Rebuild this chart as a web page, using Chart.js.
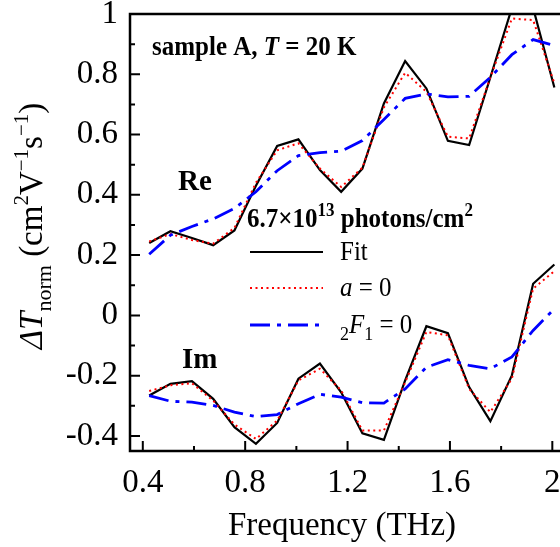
<!DOCTYPE html>
<html>
<head>
<meta charset="utf-8">
<script src="https://cdn.jsdelivr.net/npm/chart.js@4.4.0/dist/chart.umd.min.js"></script>
<style>
  html, body { margin: 0; padding: 0; background: #fff; overflow: hidden; }
</style>
</head>
<body>
<canvas id="chart" width="560" height="547"></canvas>
<script>
// Frequency points (THz)
const frequency = [0.425, 0.508, 0.592, 0.675, 0.758, 0.842, 0.925, 1.008, 1.092, 1.175,
                   1.258, 1.342, 1.425, 1.508, 1.592, 1.675, 1.758, 1.842, 1.925, 2.008];
// real part
const reFit = [0.240, 0.279, 0.257, 0.233, 0.282, 0.430, 0.562, 0.584, 0.482, 0.410,
               0.487, 0.703, 0.844, 0.753, 0.579, 0.565, 0.790, 1.020, 1.020, 0.756];
const reA0  = [0.245, 0.270, 0.250, 0.238, 0.290, 0.440, 0.548, 0.571, 0.487, 0.426,
               0.490, 0.690, 0.805, 0.742, 0.593, 0.587, 0.790, 0.985, 0.980, 0.770];
const reF0  = [0.203, 0.266, 0.295, 0.320, 0.355, 0.410, 0.480, 0.530, 0.540, 0.545,
               0.580, 0.650, 0.720, 0.735, 0.725, 0.727, 0.790, 0.865, 0.915, 0.895];
// imaginary part
const imFit = [-0.266, -0.227, -0.218, -0.277, -0.371, -0.426, -0.357, -0.210, -0.160, -0.255,
               -0.391, -0.413, -0.216, -0.036, -0.059, -0.238, -0.351, -0.199, 0.105, 0.169];
const imA0  = [-0.251, -0.232, -0.225, -0.283, -0.362, -0.410, -0.349, -0.216, -0.177, -0.249,
               -0.382, -0.382, -0.222, -0.055, -0.066, -0.244, -0.321, -0.210, 0.089, 0.147];
const imF0  = [-0.266, -0.285, -0.288, -0.299, -0.321, -0.336, -0.329, -0.293, -0.262, -0.271,
               -0.290, -0.291, -0.244, -0.172, -0.147, -0.166, -0.177, -0.138, -0.050, 0.022];

const xTickLabels = [0.4, 0.8, 1.2, 1.6, 2];
const yTickLabels = [-0.4, -0.2, 0, 0.2, 0.4, 0.6, 0.8, 1];

const SERIF = '"Liberation Serif", "Times New Roman", serif';
Chart.defaults.font.family = SERIF;

const styles = {
  fit: { color: '#000000', width: 2.2, dash: [] },
  a0:  { color: '#ff0000', width: 2, dash: [2, 3.5] },
  f0:  { color: '#0000ff', width: 2.8, dash: [20, 7, 4, 7] },
};

function points(ys) {
  return frequency.map((x, i) => ({ x: x, y: ys[i] }));
}

function dataset(ys, st, order) {
  return {
    data: points(ys),
    borderColor: st.color,
    borderWidth: st.width,
    borderDash: st.dash,
    pointRadius: 0,
    tension: 0,
    fill: false,
    order: order,
  };
}

// draw a run of text pieces with different fonts / offsets
function drawParts(ctx, x, y, parts, sy) {
  ctx.save();
  ctx.translate(x, y);
  ctx.scale(1, sy || 1);
  let cx = 0;
  for (const [text, font, dy] of parts) {
    ctx.font = font + ' ' + SERIF;
    ctx.fillText(text, cx, dy || 0);
    cx += ctx.measureText(text).width;
  }
  ctx.restore();
  return cx;
}

function measureParts(ctx, parts) {
  let w = 0;
  for (const [text, font] of parts) {
    ctx.font = font + ' ' + SERIF;
    w += ctx.measureText(text).width;
  }
  return w;
}

function midpoints(arr) {
  const out = [];
  for (let i = 0; i < arr.length - 1; i++) out.push((arr[i] + arr[i + 1]) / 2);
  return out;
}

const decorations = {
  id: 'decorations',
  afterDraw(chart) {
    const { ctx, chartArea: a, scales: { x, y } } = chart;
    ctx.save();
    ctx.strokeStyle = '#000';
    ctx.fillStyle = '#000';
    ctx.setLineDash([]);

    // axes frame (left, bottom, top)
    ctx.lineWidth = 2.5;
    ctx.lineCap = 'square';
    ctx.beginPath();
    ctx.moveTo(a.right + 2, a.top);
    ctx.lineTo(a.left, a.top);
    ctx.lineTo(a.left, a.bottom);
    ctx.lineTo(a.right + 2, a.bottom);
    ctx.stroke();

    // inward ticks
    ctx.lineWidth = 2;
    ctx.lineCap = 'butt';
    ctx.beginPath();
    yTickLabels.forEach(v => {
      const py = y.getPixelForValue(v);
      ctx.moveTo(a.left, py); ctx.lineTo(a.left + 10, py);
    });
    midpoints(yTickLabels).forEach(v => {
      const py = y.getPixelForValue(v);
      ctx.moveTo(a.left, py); ctx.lineTo(a.left + 5, py);
    });
    xTickLabels.forEach(v => {
      const px = x.getPixelForValue(v);
      ctx.moveTo(px, a.bottom); ctx.lineTo(px, a.bottom - 10);
    });
    midpoints(xTickLabels).forEach(v => {
      const px = x.getPixelForValue(v);
      ctx.moveTo(px, a.bottom); ctx.lineTo(px, a.bottom - 5);
    });
    ctx.stroke();

    // axis titles
    ctx.textBaseline = 'alphabetic';
    ctx.textAlign = 'left';
    const xTitle = [['Frequency (THz)', '33px']];
    drawParts(ctx, 342 - measureParts(ctx, xTitle) / 2, 535, xTitle);

    const yTitle = [
      ['\u0394T', 'italic 33px'], ['norm', '22px', 9],
      [' (cm', '33px'], ['2', '21px', -14], ['V', '33px'],
      ['\u22121', '21px', -14], ['s', '33px'], ['\u22121', '21px', -14], [')', '33px'],
    ];
    ctx.save();
    ctx.translate(42, 226);
    ctx.rotate(-Math.PI / 2);
    drawParts(ctx, -measureParts(ctx, yTitle) / 2, 0, yTitle);
    ctx.restore();

    // annotations
    drawParts(ctx, 152, 55, [['sample A, ', 'bold 25px'], ['T', 'italic bold 25px'], [' = 20 K', 'bold 25px']], 1.08);
    drawParts(ctx, 178, 190, [['Re', 'bold 29px']], 1.05);
    drawParts(ctx, 182, 368, [['Im', 'bold 29px']], 1.05);
    drawParts(ctx, 247, 227, [['6.7\u00d710', 'bold 25px'], ['13', 'bold 17px', -10],
                              [' photons/cm', 'bold 25px'], ['2', 'bold 17px', -10]], 1.1);

    // legend
    const rows = [
      { st: styles.fit, y: 252, parts: [['Fit', '25px']] },
      { st: styles.a0, y: 288, parts: [['a', 'italic 25px'], [' = 0', '25px']] },
      { st: styles.f0, y: 325, parts: [['2', '18px', 6], ['F', 'italic 25px'], ['1', '18px', 6], [' = 0', '25px']] },
    ];
    rows.forEach(r => {
      ctx.save();
      ctx.strokeStyle = r.st.color;
      ctx.lineWidth = r.st.width;
      ctx.setLineDash(r.st.dash);
      ctx.beginPath();
      ctx.moveTo(250, r.y); ctx.lineTo(323, r.y);
      ctx.stroke();
      ctx.restore();
      drawParts(ctx, 340, r.y + 8, r.parts, 1.1);
    });

    ctx.restore();
  }
};

const tickFont = { family: SERIF, size: 33, weight: 'normal' };

new Chart(document.getElementById('chart').getContext('2d'), {
  type: 'line',
  data: {
    datasets: [
      dataset(reFit, styles.fit, 3),
      dataset(reA0, styles.a0, 2),
      dataset(reF0, styles.f0, 1),
      dataset(imFit, styles.fit, 3),
      dataset(imA0, styles.a0, 2),
      dataset(imF0, styles.f0, 1),
    ],
  },
  options: {
    responsive: false,
    animation: false,
    layout: { padding: { top: 14, right: 0, left: 0, bottom: 0 } },
    plugins: { legend: { display: false }, tooltip: { enabled: false } },
    scales: {
      x: {
        type: 'linear',
        min: 0.35,
        max: 2.03,
        grid: { display: false, drawTicks: false },
        border: { display: false },
        ticks: { font: tickFont, color: '#000', padding: 13, maxRotation: 0, autoSkip: false,
                 callback: v => String(v) },
        afterBuildTicks: s => { s.ticks = xTickLabels.map(v => ({ value: v })); },
        afterFit: s => { s.height = 96; s.paddingLeft = 0; s.paddingRight = 0; },
      },
      y: {
        type: 'linear',
        min: -0.45,
        max: 1.0,
        grid: { display: false, drawTicks: false },
        border: { display: false },
        ticks: { font: tickFont, color: '#000', padding: 12, autoSkip: false,
                 callback: v => String(v) },
        afterBuildTicks: s => { s.ticks = yTickLabels.map(v => ({ value: v })); },
        afterFit: s => { s.width = 130; s.paddingTop = 0; s.paddingBottom = 0; },
      },
    },
  },
  plugins: [decorations],
});
</script>
</body>
</html>
